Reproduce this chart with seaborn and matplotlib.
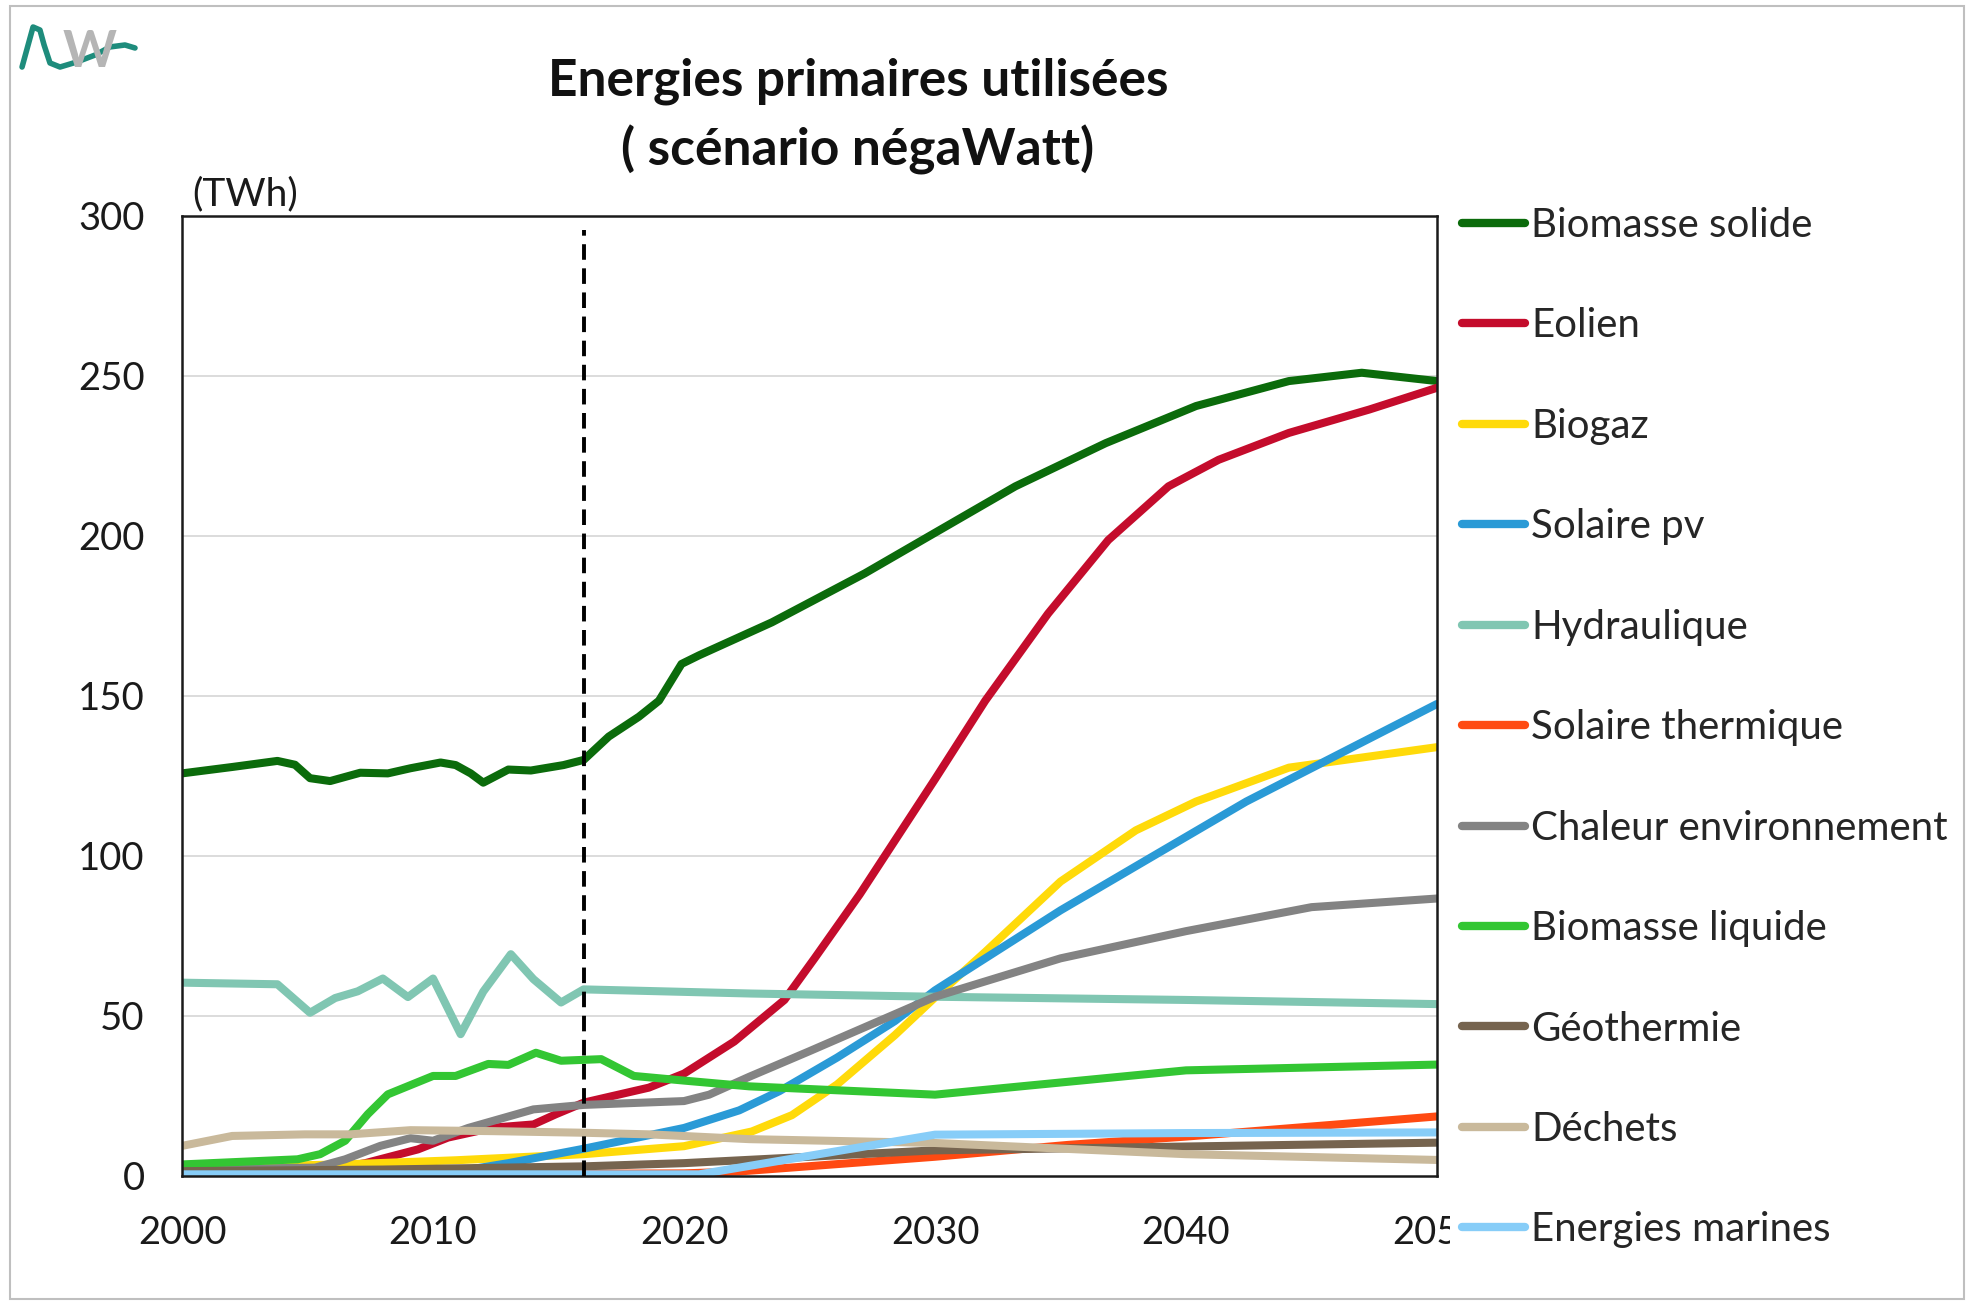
import pandas as pd
import seaborn as sns
import matplotlib.pyplot as plt
from matplotlib.lines import Line2D
from matplotlib.patches import Rectangle

# Series (TWh)
biomasse_solide_x = [2000, 2002, 2003.8, 2004.5, 2005.1, 2005.9, 2007.1, 2008.2, 2009.1, 2010.3, 2010.9,
                     2011.5, 2012, 2013, 2013.9, 2015.2, 2016, 2017, 2018.2, 2019, 2019.9, 2020.6, 2023.5,
                     2027.2, 2030, 2033.2, 2036.8, 2040.4, 2044.1, 2047, 2050]
biomasse_solide_y = [125.8, 127.8, 129.7, 128.5, 124.3, 123.4, 126, 125.8, 127.4, 129.2, 128.4,
                     125.8, 122.9, 127, 126.7, 128.4, 130, 137.3, 143.5, 148.5, 160, 162.7, 173,
                     188.3, 201, 215.5, 229, 240.6, 248.4, 251, 248.4]

eolien_x = [2000, 2005, 2007.3, 2009.4, 2010.6, 2012.4, 2014, 2014.9, 2016, 2018.6, 2020, 2022, 2024,
            2025.2, 2027, 2028, 2030, 2032, 2034.5, 2036.9, 2039.3, 2041.3, 2044.1, 2047.3, 2050]
eolien_y = [0.5, 1, 4, 8.3, 12, 15.1, 16.1, 19.3, 22.9, 27.6, 32, 42, 55,
            68, 88, 100, 124, 148.5, 175.7, 198.7, 215.5, 223.8, 232.2, 239.5, 246.3]

biogaz_x = [2000, 2006.4, 2010.9, 2016, 2020, 2022.7, 2024.3, 2026.1, 2028.4, 2030, 2032, 2035, 2038,
            2040.4, 2044.1, 2050]
biogaz_y = [2.6, 3.6, 4.9, 6.8, 9.3, 13.9, 19, 28.6, 44, 55.8, 70, 92, 108, 117, 127.6, 134]

solaire_pv_x = [2000, 2010.5, 2013, 2016, 2020, 2022.2, 2023.8, 2026.1, 2028.4, 2030, 2035, 2042.4, 2050]
solaire_pv_y = [0.8, 0.8, 4, 8.5, 15, 20.5, 26.5, 37, 48.4, 58, 83, 117, 147.5]

hydraulique_x = [2000, 2003.8, 2005.1, 2006.1, 2007, 2008, 2009, 2010, 2011.1, 2012, 2013.1, 2014,
                 2015.1, 2016, 2022.7, 2030, 2040, 2050]
hydraulique_y = [60.4, 59.9, 51, 55.6, 57.7, 61.7, 55.9, 61.7, 44.3, 57.6, 69.3, 61.5,
                 54.2, 58.3, 57, 56, 55, 53.7]

solaire_th_x = [2000, 2010, 2020, 2022.2, 2030, 2035.3, 2040, 2050]
solaire_th_y = [0.3, 0.5, 0.8, 1.4, 6, 9.7, 12.3, 18.6]

chaleur_x = [2000, 2005.3, 2006.5, 2007.9, 2009.1, 2010, 2011.4, 2014, 2016, 2020, 2021, 2022.6,
             2025, 2030, 2035, 2040, 2045, 2050]
chaleur_y = [2, 2.6, 5.2, 9.4, 11.8, 11, 15, 20.8, 22.2, 23.4, 25.4, 31,
             39, 56, 68, 76.5, 84, 86.7]

biomasse_liq_x = [2000, 2004.6, 2005.5, 2006.5, 2007.4, 2008.2, 2010, 2010.9, 2012.2, 2013, 2014.1,
                  2015.1, 2016.7, 2018, 2020, 2022.6, 2030, 2040, 2050]
biomasse_liq_y = [3.6, 5.2, 6.8, 11, 19.3, 25.5, 31.25, 31.25, 35, 34.7, 38.5,
                  36, 36.5, 31.25, 29.8, 28, 25.4, 33, 34.8]

geothermie_x = [2000, 2008, 2016, 2020, 2030, 2040, 2050]
geothermie_y = [1.5, 2, 3, 4, 8, 9.2, 10.4]

dechets_x = [2000, 2002, 2004.9, 2006.7, 2009.1, 2012.4, 2016, 2018.6, 2022.6, 2030, 2040, 2050]
dechets_y = [9.4, 12.5, 13, 13, 14.3, 14, 13.5, 13, 11.5, 10.3, 6.8, 5]

marines_x = [2000, 2020.6, 2030, 2040, 2050]
marines_y = [0.5, 0.5, 12.9, 13.4, 13.6]

sources = ["Biomasse solide", "Eolien", "Biogaz", "Solaire pv", "Hydraulique", "Solaire thermique",
           "Chaleur environnement", "Biomasse liquide", "Géothermie", "Déchets", "Energies marines"]
couleurs = ["#0B6B0B", "#C40C2C", "#FFDA0A", "#2A9AD6", "#80C6B2", "#FF4A12",
            "#838383", "#33C633", "#76644F", "#C9B99B", "#87CDF8"]

series = [(biomasse_solide_x, biomasse_solide_y), (eolien_x, eolien_y), (biogaz_x, biogaz_y),
          (solaire_pv_x, solaire_pv_y), (hydraulique_x, hydraulique_y), (solaire_th_x, solaire_th_y),
          (chaleur_x, chaleur_y), (biomasse_liq_x, biomasse_liq_y), (geothermie_x, geothermie_y),
          (dechets_x, dechets_y), (marines_x, marines_y)]

rows = []
for name, (xs, ys) in zip(sources, series):
    for a, v in zip(xs, ys):
        rows.append({"annee": a, "TWh": v, "source": name})
df = pd.DataFrame(rows)

sns.set_style("white")
plt.rcParams["font.family"] = ["Lato", "DejaVu Sans"]

fig = plt.figure(figsize=(19.68, 13.04), dpi=100)
ax = fig.add_axes([0.0925, 0.0982, 0.6377, 0.7362])

# light horizontal grid
for g in [50, 100, 150, 200, 250]:
    ax.axhline(g, color="#D9D9D9", lw=1.3, zorder=0)

sns.lineplot(data=df, x="annee", y="TWh", hue="source", hue_order=sources,
             palette=dict(zip(sources, couleurs)), lw=5.8, estimator=None, sort=True, ax=ax)
for ln in ax.get_lines():
    ln.set_solid_joinstyle("round")

ax.axvline(2016, ymax=0.985, color="black", lw=2.8, ls=(0, (4, 2.2)), zorder=5)

ax.set_xlim(2000, 2050)
ax.set_ylim(0, 300)
ax.set_xticks([2000, 2010, 2020, 2030, 2040, 2050])
ax.set_yticks([0, 50, 100, 150, 200, 250, 300])
ax.set_xlabel("")
ax.set_ylabel("")
ax.tick_params(axis="both", direction="out", length=7, width=1.2, color="black",
               labelsize=27.5, labelcolor="#1a1a1a")
ax.tick_params(axis="x", pad=21)
ax.tick_params(axis="y", pad=20)
for s in ax.spines.values():
    s.set_color("#1a1a1a")
    s.set_linewidth(1.8)

ax.text(0.008, 1.004, "(TWh)", transform=ax.transAxes, fontsize=28, color="#1a1a1a",
        ha="left", va="bottom")

fig.text(0.436, 0.911, "Energies primaires utilisées\n( scénario négaWatt)", ha="center", va="center",
         fontsize=37, fontweight="bold", color="#111111", linespacing=1.49)

# legend on the right, white background over the last tick label
handles, labels = ax.get_legend_handles_labels()
ax.get_legend().remove()
for h in handles:
    h.set_linewidth(6)
    h.set_solid_capstyle("round")
leg = fig.legend(handles, labels, loc="upper left", bbox_to_anchor=(0.7368, 0.8505),
                 fontsize=29, frameon=True, facecolor="white", edgecolor="none", framealpha=1,
                 handlelength=1.56, handletextpad=0.15, labelspacing=1.575, borderpad=0.3,
                 borderaxespad=0)
leg.set_zorder(10)

# outer frame and logo
fig.patches.append(Rectangle((0.005, 0.004), 0.993, 0.9916, transform=fig.transFigure,
                             fill=False, edgecolor="#BFBFBF", lw=1.5))
fig.text(0.0455, 0.9595, "W", fontsize=37, fontweight="bold", color="#B5B5B5", ha="center", va="center")
fig.lines.append(Line2D([0.0112, 0.0168, 0.0203, 0.0224, 0.0254, 0.0305, 0.0391, 0.0483, 0.0559, 0.0635, 0.0686],
                        [0.9486, 0.9793, 0.977, 0.9655, 0.9517, 0.9486, 0.9525, 0.9578, 0.964, 0.9655, 0.9632],
                        transform=fig.transFigure, color="#1E8C7C", lw=4, solid_capstyle="round",
                        solid_joinstyle="round"))

fig.savefig("out.png", dpi=100)
